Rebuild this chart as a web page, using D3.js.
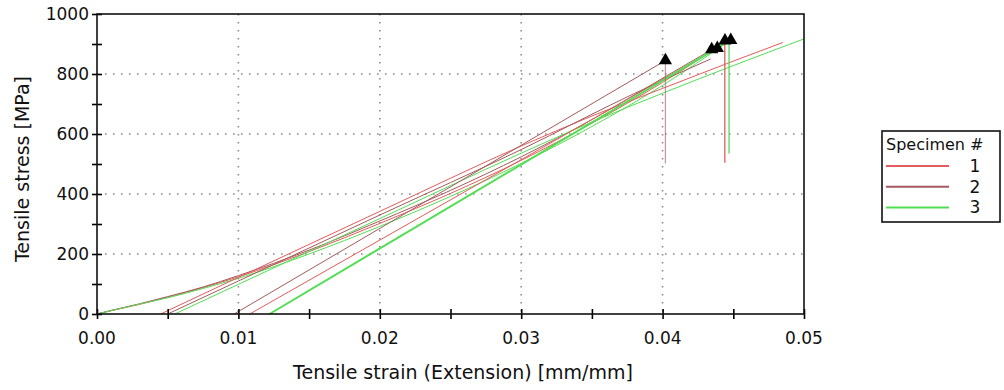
<!DOCTYPE html>
<html>
<head>
<meta charset="utf-8">
<script src="https://cdn.jsdelivr.net/npm/d3@7"></script>
<style>
  body { margin: 0; background: #fff; }
  text { font-family: "DejaVu Sans", Verdana, sans-serif; }
</style>
</head>
<body>
<div id="chart"></div>
<script>
// specimens / legend
const specimens = ["1", "2", "3"];
const specColors = ["#e35b5b", "#a45a5e", "#52de52"];

// x / y ticks
const xMajor = [0, 0.01, 0.02, 0.03, 0.04, 0.05];
const xMinor = [0.005, 0.015, 0.025, 0.035, 0.045];
const yMajor = [0, 200, 400, 600, 800, 1000];
const yMinor = [100, 300, 500, 700, 900];

// curves from origin (strain, stress)
const raw1 = [[0, 0], [0.001, 11], [0.003, 32], [0.005, 56], [0.0075, 88], [0.01, 124], [0.015, 208], [0.02, 302], [0.025, 402], [0.03, 512], [0.035, 636], [0.04, 772], [0.0444, 905]];
const raw2 = [[0, 0], [0.001, 12], [0.003, 34], [0.005, 58], [0.0075, 90], [0.01, 128], [0.015, 213], [0.02, 310], [0.025, 412], [0.03, 524], [0.035, 648], [0.04, 786], [0.0435, 882]];
const raw3 = [[0, 0], [0.001, 11], [0.003, 33], [0.005, 54], [0.0075, 85], [0.01, 119], [0.015, 200], [0.02, 292], [0.025, 392], [0.03, 502], [0.035, 625], [0.04, 762], [0.0448, 913]];

// shifted curves, first offset
const mid1 = [[0.0045, 0], [0.01, 122], [0.02, 342], [0.03, 560], [0.035, 660], [0.04, 752], [0.0445, 834], [0.0485, 905]];
const mid2 = [[0.005, 0], [0.01, 110], [0.02, 330], [0.03, 548], [0.038, 735], [0.0434, 850]];
const mid3 = [[0.0055, 0], [0.01, 99], [0.02, 318], [0.03, 536], [0.035, 640], [0.04, 736], [0.045, 828], [0.05, 917]];

// shifted curves, second offset
const hi1 = [[0.0108, 0], [0.04387, 886]];
const hi2 = [[0.0097, 0], [0.0402, 845]];
const hi3 = [[0.0122, 0], [0.0448, 913]];

// break drops
const dropSpec = [1, 0, 2];
const dropStrain = [0.0402, 0.0444, 0.0447];
const dropTop = [845, 905, 913];
const dropBottom = [502, 504, 535];

// break markers
const breakStrain = [0.0402, 0.04347, 0.04387, 0.04441, 0.04482];
const breakStress = [845, 882, 886, 911, 913];

const curves = [
    { spec: 0, pts: raw1, w: 1 }, { spec: 1, pts: raw2, w: 1 }, { spec: 2, pts: raw3, w: 1 },
    { spec: 0, pts: mid1, w: 1 }, { spec: 1, pts: mid2, w: 1 }, { spec: 2, pts: mid3, w: 1 },
    { spec: 1, pts: hi2, w: 1 }, { spec: 0, pts: hi1, w: 1 }, { spec: 2, pts: hi3, w: 2 },
];

const width = 1004;
const height = 390;
const margin = { top: 14, right: 200, bottom: 76, left: 97 };
const innerWidth = width - margin.left - margin.right;
const innerHeight = height - margin.top - margin.bottom;

const svg = d3.select("#chart")
    .append("svg")
    .attr("width", width)
    .attr("height", height);

const graph = svg.append("g")
    .attr("transform", "translate(" + margin.left + "," + margin.top + ")");

const x = d3.scaleLinear().domain([0, 0.05]).range([0, innerWidth]);
const y = d3.scaleLinear().domain([0, 1000]).range([innerHeight, 0]);

// dotted grid
graph.selectAll(".vgrid")
    .data(xMajor.slice(1, -1))
    .enter().append("line")
    .attr("x1", d => x(d)).attr("x2", d => x(d))
    .attr("y1", 0).attr("y2", innerHeight)
    .attr("stroke", "#8a8a8a").attr("stroke-width", 1.6)
    .attr("stroke-dasharray", "1.6,6.4");
graph.selectAll(".hgrid")
    .data(yMajor.slice(1, -1))
    .enter().append("line")
    .attr("y1", d => y(d)).attr("y2", d => y(d))
    .attr("x1", 0).attr("x2", innerWidth)
    .attr("stroke", "#8a8a8a").attr("stroke-width", 1.6)
    .attr("stroke-dasharray", "1.6,6.4");

// curves
const line = d3.line().x(d => x(d[0])).y(d => y(d[1])).curve(d3.curveMonotoneX);
graph.selectAll(".curve")
    .data(curves)
    .enter().append("path")
    .attr("d", d => line(d.pts))
    .attr("fill", "none")
    .attr("stroke", d => specColors[d.spec])
    .attr("stroke-width", d => d.w);

// drops after break
graph.selectAll(".drop")
    .data(dropStrain)
    .enter().append("line")
    .attr("x1", d => x(d)).attr("x2", d => x(d))
    .attr("y1", (d, i) => y(dropTop[i]))
    .attr("y2", (d, i) => y(dropBottom[i]))
    .attr("stroke", (d, i) => specColors[dropSpec[i]])
    .attr("stroke-opacity", (d, i) => i === 0 ? 0.6 : 1)
    .attr("stroke-width", 1.3);

// break markers
const tri = d3.symbol().type(d3.symbolTriangle).size(76);
graph.selectAll(".brk")
    .data(breakStrain)
    .enter().append("path")
    .attr("d", tri)
    .attr("transform", (d, i) => "translate(" + x(d) + "," + y(breakStress[i]) + ")")
    .attr("fill", "#000");

// axes: ticks cross the frame, labels drawn separately
const xAxis = graph.append("g")
    .attr("transform", "translate(0," + innerHeight + ")")
    .call(d3.axisBottom(x).tickValues(xMajor.concat(xMinor)).tickSize(5));
const yAxis = graph.append("g")
    .call(d3.axisLeft(y).tickValues(yMajor.concat(yMinor)).tickSize(5));

xAxis.selectAll(".tick text").remove();
yAxis.selectAll(".tick text").remove();
xAxis.selectAll(".tick line").attr("y1", -5).attr("stroke-width", 1.6);
yAxis.selectAll(".tick line").attr("x1", 5).attr("stroke-width", 1.6);
xAxis.select(".domain").remove();
yAxis.select(".domain").remove();

const fmtX = d3.format(".2f");
graph.selectAll(".xlab")
    .data(xMajor)
    .enter().append("text")
    .attr("x", d => x(d))
    .attr("y", innerHeight + 30)
    .attr("text-anchor", "middle")
    .style("font-size", "17px")
    .attr("fill", "#111")
    .text(d => fmtX(d));
graph.selectAll(".ylab")
    .data(yMajor)
    .enter().append("text")
    .attr("x", -8)
    .attr("y", d => y(d) + 6)
    .attr("text-anchor", "end")
    .style("font-size", "17px")
    .attr("fill", "#111")
    .text(d => d);

// frame
graph.append("rect")
    .attr("width", innerWidth).attr("height", innerHeight)
    .attr("fill", "none").attr("stroke", "#111").attr("stroke-width", 1.6);

// axis titles
svg.append("text")
    .attr("x", 463)
    .attr("y", 379)
    .attr("text-anchor", "middle")
    .style("font-size", "19px")
    .attr("fill", "#111")
    .text("Tensile strain (Extension) [mm/mm]");
svg.append("text")
    .attr("transform", "translate(29,169) rotate(-90)")
    .attr("text-anchor", "middle")
    .style("font-size", "19px")
    .attr("fill", "#111")
    .text("Tensile stress [MPa]");

// legend
const legend = svg.append("g").attr("transform", "translate(882,131)");
legend.append("rect")
    .attr("width", 118).attr("height", 91)
    .attr("fill", "#fff").attr("stroke", "#111").attr("stroke-width", 1.6);
legend.append("text")
    .attr("x", 4).attr("y", 19)
    .style("font-size", "16px")
    .attr("fill", "#111")
    .text("Specimen #");
legend.selectAll(".lgl")
    .data(specimens)
    .enter().append("line")
    .attr("x1", 4).attr("x2", 67)
    .attr("y1", (d, i) => 35 + i * 20.7).attr("y2", (d, i) => 35 + i * 20.7)
    .attr("stroke", (d, i) => specColors[i])
    .attr("stroke-width", 2);
legend.selectAll(".lgt")
    .data(specimens)
    .enter().append("text")
    .attr("x", 93).attr("y", (d, i) => 41 + i * 20.7)
    .attr("text-anchor", "middle")
    .style("font-size", "17px")
    .attr("fill", "#111")
    .text(d => d);
</script>
</body>
</html>
